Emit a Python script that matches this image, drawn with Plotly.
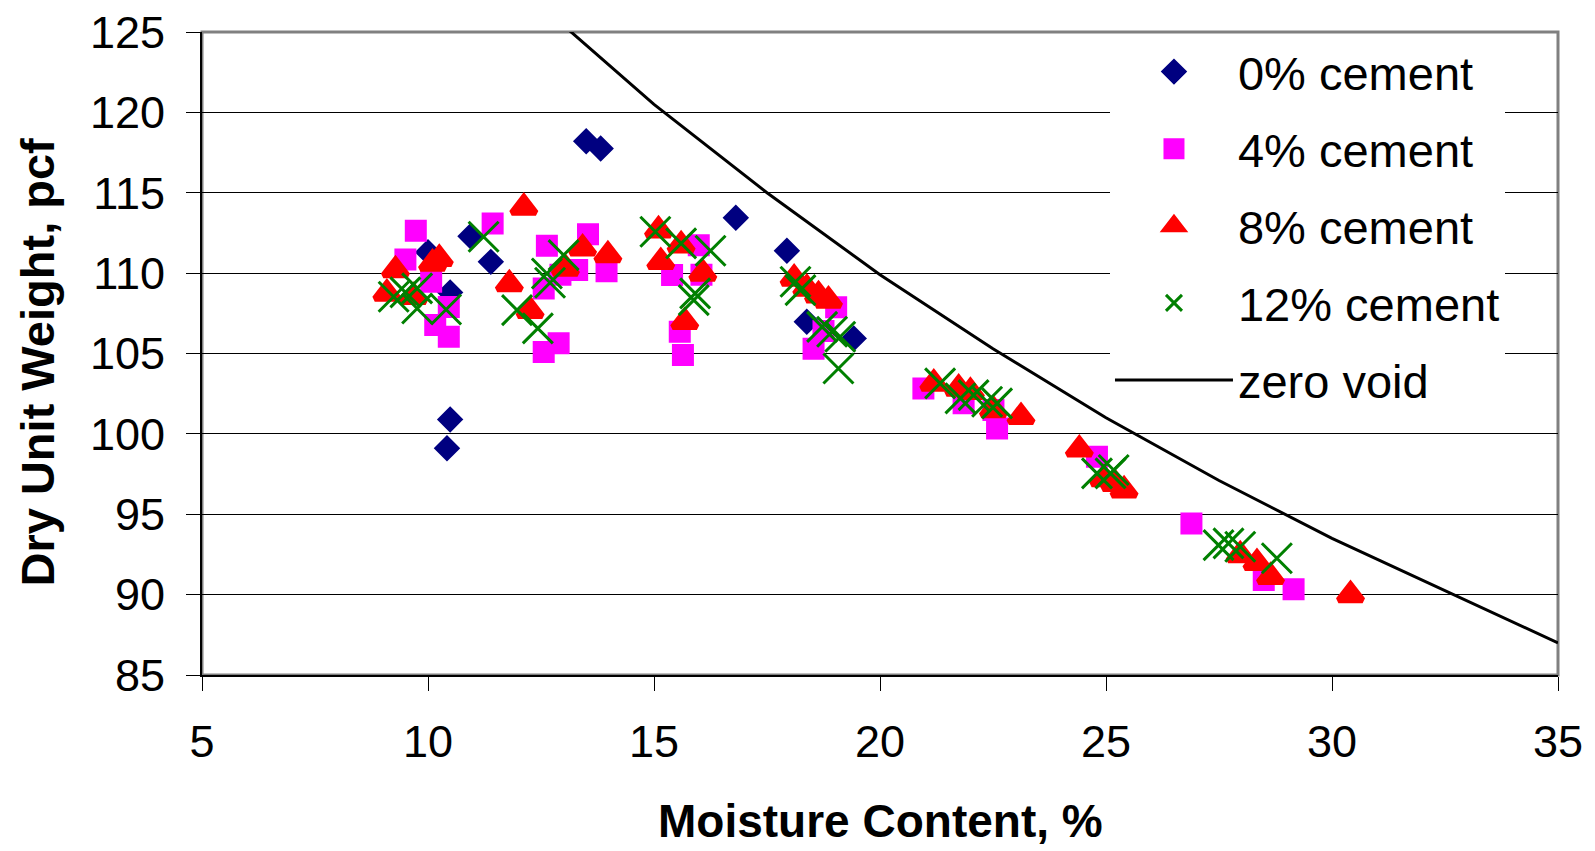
import plotly.graph_objects as go

# ---- data ----
c0_x = [13.50, 13.82, 10.94, 11.39, 10.00, 10.49, 10.49, 10.42, 16.81, 17.94, 18.38, 19.42]
c0_y = [118.2, 117.75, 112.3, 110.7, 111.3, 108.8, 100.9, 99.1, 113.44, 111.39, 106.97, 105.94]

c4_x = [9.73, 9.50, 10.07, 10.16, 10.46, 10.46, 11.43, 12.63, 12.56, 12.56, 12.89, 13.54, 13.30,
        13.95, 12.93, 15.99, 15.40, 16.05, 15.57, 15.64, 19.03, 18.75, 18.53, 20.96, 21.85,
        22.59, 22.51, 24.80, 26.89, 28.49, 29.15]
c4_y = [112.63, 110.85, 109.46, 106.77, 106.04, 107.9, 113.09, 111.7, 109.05, 105.1, 105.63,
        112.42, 110.19, 110.12, 109.9, 111.74, 109.88, 109.9, 106.35, 104.9, 107.87, 106.4,
        105.3, 102.83, 101.9, 100.34, 101.48, 98.58, 94.43, 90.91, 90.33]

c8_x = [12.12, 9.28, 10.10, 10.25, 9.09, 9.68, 11.80, 12.26, 13.42, 13.98, 13.04, 15.10, 15.15,
        15.60, 16.08, 15.68, 18.10, 18.38, 18.64, 18.86, 21.19, 21.74, 22.00, 22.51, 23.12,
        24.41, 24.95, 25.20, 25.40, 27.97, 28.34, 28.64, 30.41]
c8_y = [114.08, 110.19, 110.6, 110.9, 108.74, 108.53, 109.32, 107.66, 111.54, 111.12, 110.29,
        112.67, 110.7, 111.74, 109.98, 106.97, 109.67, 109.05, 108.63, 108.3, 103.14, 102.83,
        102.62, 101.48, 101.06, 99.04, 97.2, 96.9, 96.5, 92.46, 91.98, 91.11, 89.98]

c12_x = [11.23, 9.24, 9.50, 9.76, 9.76, 10.40, 11.97, 12.43, 12.63, 13.00, 12.70, 15.03, 15.60,
         16.25, 15.91, 15.88, 18.13, 18.24, 18.72, 18.94, 19.12, 19.08, 21.33, 21.78, 22.07,
         22.37, 22.59, 24.80, 25.10, 25.17, 27.49, 27.71, 27.97, 28.78]
c12_y = [112.26, 108.53, 108.8, 109.05, 107.8, 107.74, 107.7, 106.56, 109.98, 111.12, 109.4,
         112.57, 111.85, 111.39, 108.74, 108.32, 109.46, 108.94, 106.66, 106.35, 106.04, 104.07,
         103.14, 102.21, 102.41, 102.0, 101.9, 97.54, 97.54, 97.75, 93.08, 93.19, 92.98, 92.26]

zav_x = [12.8, 15.0, 17.5, 20.0, 22.5, 25.0, 27.5, 30.0, 35.0]
zav_y = [125.9, 120.5, 115.0, 109.9, 105.3, 101.0, 97.1, 93.5, 87.0]

x_ticks = [5, 10, 15, 20, 25, 30, 35]
y_ticks = [85, 90, 95, 100, 105, 110, 115, 120, 125]

FONT = "Liberation Sans, Arial, sans-serif"

fig = go.Figure()
fig.add_trace(go.Scatter(x=c0_x, y=c0_y, mode="markers", name="0% cement",
                         marker=dict(symbol="diamond", size=16, color="#000080",
                                     line=dict(color="#000080", width=4)),
                         legendgroup="a"))
fig.add_trace(go.Scatter(x=c4_x, y=c4_y, mode="markers", name="4% cement",
                         marker=dict(symbol="square", size=17, color="#FF00FF",
                                     line=dict(color="#FF00FF", width=5)),
                         legendgroup="b"))
fig.add_trace(go.Scatter(x=c8_x, y=c8_y, mode="markers", name="8% cement",
                         marker=dict(symbol="triangle-up", size=21, color="#FF0000",
                                     line=dict(color="#FF0000", width=6)),
                         legendgroup="c"))
fig.add_trace(go.Scatter(x=c12_x, y=c12_y, mode="markers", name="12% cement",
                         marker=dict(symbol="x-thin", size=30, color="#008000",
                                     line=dict(color="#008000", width=3)),
                         legendgroup="d"))
fig.add_trace(go.Scatter(x=zav_x, y=zav_y, mode="lines", name="zero void",
                         line=dict(color="black", width=3), legendgroup="e"))

# plot-area border (gray, Excel style)
fig.add_shape(type="rect", xref="paper", yref="paper", x0=0, y0=0, x1=1, y1=1,
              line=dict(color="#808080", width=3), layer="below")

fig.update_layout(
    width=1595, height=851,
    margin=dict(l=202, r=37, t=32, b=176, autoexpand=False),
    paper_bgcolor="white", plot_bgcolor="white",
    font=dict(family=FONT, color="black"),
    showlegend=True,
    legend=dict(x=0.6696, y=0.996, xanchor="left", yanchor="top",
                bgcolor="white", borderwidth=0,
                font=dict(size=47, family=FONT, color="black"),
                tracegroupgap=13, itemwidth=118, itemsizing="trace"),
    xaxis=dict(range=[5, 35], tickvals=x_ticks, ticktext=[str(v) for v in x_ticks],
               showgrid=False, zeroline=False, showline=True, linecolor="black", linewidth=2,
               ticks="outside", ticklen=14, tickwidth=1, tickcolor="black",
               tickfont=dict(size=45, family=FONT), ticklabelstandoff=12),
    yaxis=dict(range=[85, 125], tickvals=y_ticks, ticktext=[str(v) for v in y_ticks],
               showgrid=True, gridcolor="black", gridwidth=1, zeroline=False,
               showline=True, linecolor="black", linewidth=2,
               ticks="outside", ticklen=14, tickwidth=1, tickcolor="black",
               tickfont=dict(size=45, family=FONT), ticklabelstandoff=12),
)

fig.add_annotation(text="<b>Moisture Content, %</b>", xref="paper", yref="paper",
                   x=0.5, y=0, xanchor="center", yanchor="middle", yshift=-146,
                   showarrow=False, font=dict(size=46, family=FONT, color="black"))
fig.add_annotation(text="<b>Dry Unit Weight, pcf</b>", xref="paper", yref="paper",
                   x=0, y=0.5, xanchor="center", yanchor="middle", xshift=-165, yshift=-9,
                   textangle=-90, showarrow=False,
                   font=dict(size=47, family=FONT, color="black"))

fig.write_html("out.html")
